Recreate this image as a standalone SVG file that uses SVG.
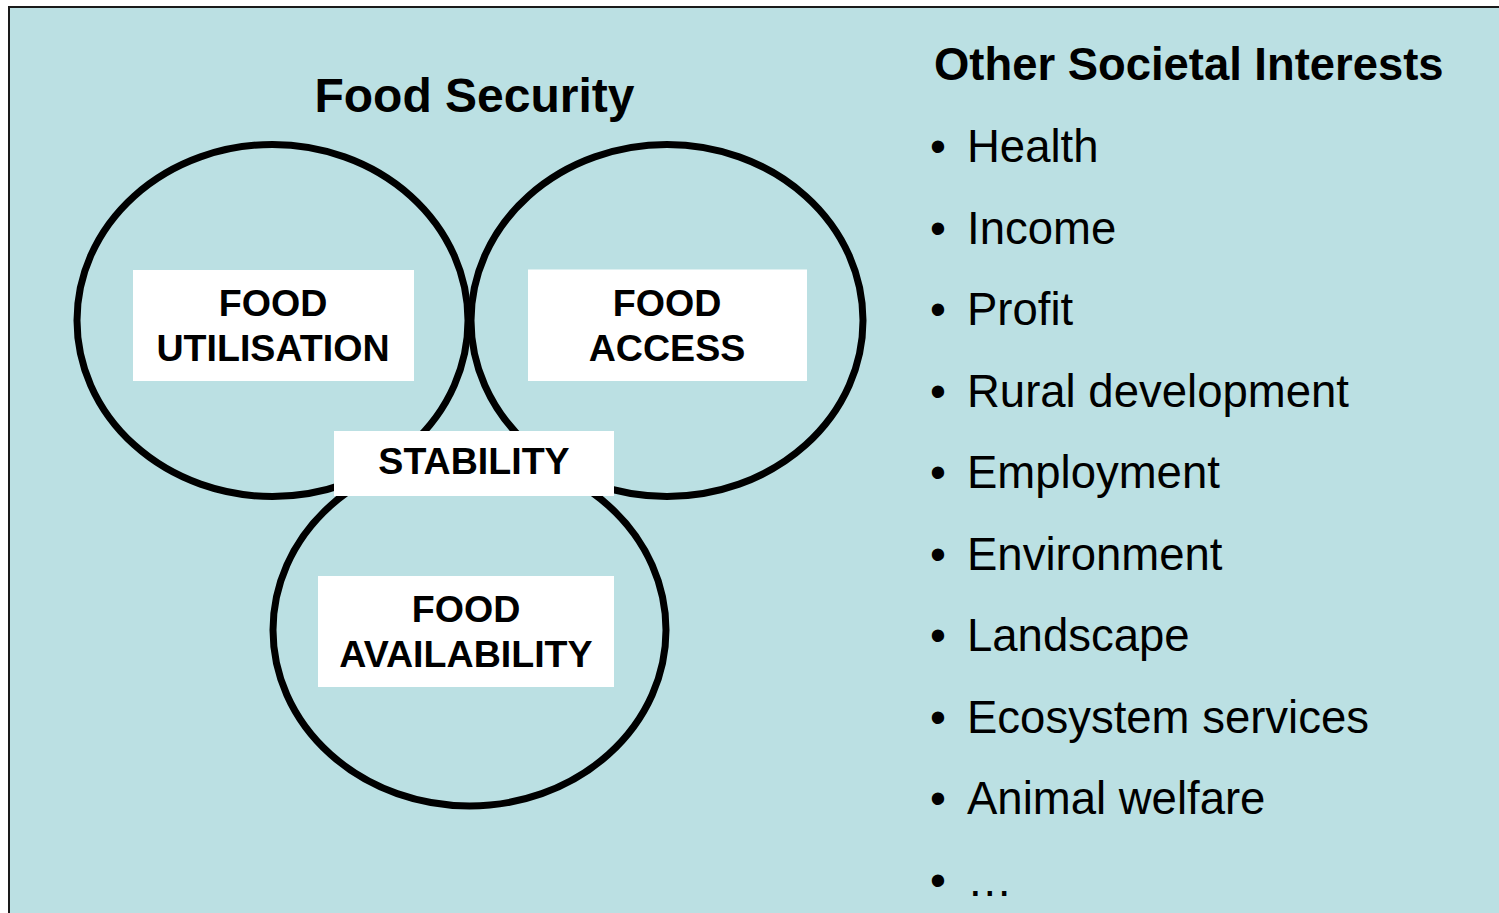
<svg xmlns="http://www.w3.org/2000/svg" width="1499" height="913" viewBox="0 0 1499 913">
  <style>
    .bg { fill: #BBE0E3; stroke: #1a1a1a; stroke-width: 2; }
    .ring { fill: none; stroke: #000; stroke-width: 7; }
    .box { fill: #fff; stroke: none; }
    .lbl { font-family: "Liberation Sans", Arial, sans-serif; font-weight: bold; font-size: 37.6px; fill: #000; text-anchor: middle; }
    .title { font-family: "Liberation Sans", Arial, sans-serif; font-weight: bold; fill: #000; }
    .item { font-family: "Liberation Sans", Arial, sans-serif; font-size: 45.5px; fill: #000; }
  </style>
  <rect width="1499" height="913" fill="#ffffff"/>
  <rect class="bg" x="9" y="7" width="1500" height="915"/>

  <text class="title" x="474.5" y="112" font-size="48" text-anchor="middle">Food Security</text>

  <g id="node-utilisation">
    <ellipse class="ring" cx="272.5" cy="320.5" rx="195.5" ry="176"/>
  </g>
  <g id="node-access">
    <ellipse class="ring" cx="667" cy="320.5" rx="196" ry="176"/>
  </g>
  <g id="node-availability">
    <ellipse class="ring" cx="469.5" cy="630" rx="196.5" ry="176"/>
  </g>

  <g id="label-utilisation">
    <rect class="box" x="133" y="270" width="281" height="111"/>
    <text class="lbl" x="273" y="316">FOOD</text>
    <text class="lbl" x="273" y="361">UTILISATION</text>
  </g>
  <g id="label-access">
    <rect class="box" x="528" y="269.5" width="279" height="111.5"/>
    <text class="lbl" x="667" y="316">FOOD</text>
    <text class="lbl" x="667" y="361">ACCESS</text>
  </g>
  <g id="label-availability">
    <rect class="box" x="318" y="576" width="296" height="111"/>
    <text class="lbl" x="466" y="622">FOOD</text>
    <text class="lbl" x="466" y="667">AVAILABILITY</text>
  </g>
  <g id="node-stability">
    <rect class="box" x="334" y="431" width="280" height="65"/>
    <text class="lbl" x="474" y="473.5">STABILITY</text>
  </g>

  <g id="connectors"></g>

  <g id="other-interests">
    <text class="title" x="934" y="80" font-size="45.4">Other Societal Interests</text>
    <g class="item">
      <text x="930" y="162">•</text><text x="967" y="162">Health</text>
      <text x="930" y="243.5">•</text><text x="967" y="243.5">Income</text>
      <text x="930" y="325">•</text><text x="967" y="325">Profit</text>
      <text x="930" y="406.5">•</text><text x="967" y="406.5">Rural development</text>
      <text x="930" y="488">•</text><text x="967" y="488">Employment</text>
      <text x="930" y="569.5">•</text><text x="967" y="569.5">Environment</text>
      <text x="930" y="651">•</text><text x="967" y="651">Landscape</text>
      <text x="930" y="732.5">•</text><text x="967" y="732.5">Ecosystem services</text>
      <text x="930" y="814">•</text><text x="967" y="814">Animal welfare</text>
      <text x="930" y="895.5">•</text><text x="967" y="895.5">…</text>
    </g>
  </g>
</svg>
